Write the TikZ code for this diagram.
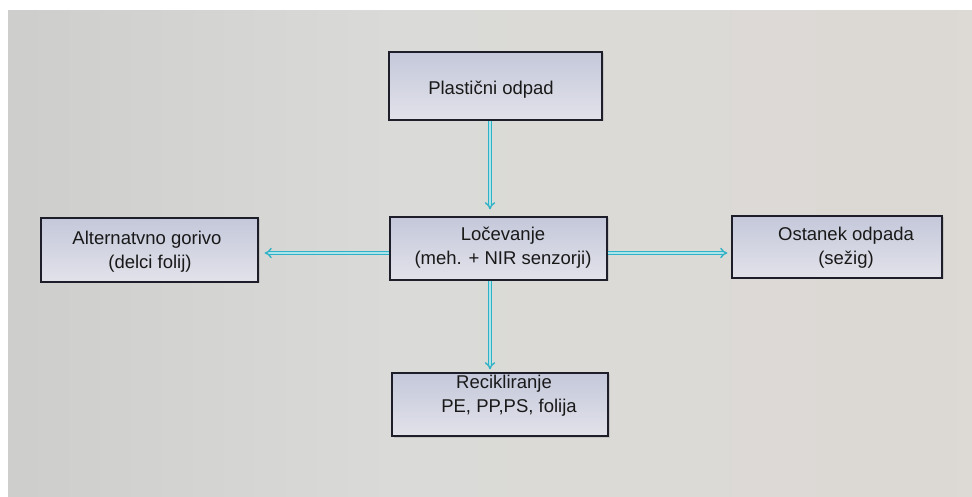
\documentclass[tikz,border=0pt]{standalone}
\usepackage{fontspec}
\setmainfont{Liberation Sans}
\usetikzlibrary{arrows.meta,shadows}

% colours of the screen, the boxes and the flow arrows
\definecolor{screenL}{HTML}{BEBEBE}
\definecolor{screenM}{HTML}{DADAD8}
\definecolor{screenR}{HTML}{DDD9D4}
\definecolor{boxtop}{HTML}{C4C8DA}
\definecolor{boxbot}{HTML}{E2E2EA}
\definecolor{boxline}{HTML}{1E1E2A}
\definecolor{flowline}{HTML}{30B2C6}
\definecolor{flowfill}{HTML}{ACE4EC}

\pgfdeclarehorizontalshading{screen}{100bp}{%
  color(0bp)=(screenL); color(45bp)=(screenM); color(80bp)=(screenR); color(100bp)=(screenR)}

\tikzset{
  stagebox/.style={draw=boxline, line width=1.3bp, top color=boxtop, bottom color=boxbot,
    minimum width=#1, inner sep=0pt,
    drop shadow={shadow xshift=1.5bp, shadow yshift=-1.5bp, opacity=0.25}},
  stagetext/.style={font=\fontsize{18.5bp}{24bp}\selectfont, text=black!90, align=center, inner sep=0pt},
  flow/.style={draw=flowline, line width=1.4bp, double=flowfill, double distance=2bp,
    -{Implies}}
}

\begin{document}
\begin{tikzpicture}[x=1bp, y=-1bp]
  \useasboundingbox (0,0) rectangle (972,497);
  \fill[white] (0,0) rectangle (972,497);
  \shade[shading=screen] (8,11) rectangle (972,497);

  % stages of the sorting process
  \node[stagebox=213bp, minimum height=68bp] (odpad) at (495.5,86) {};
  \node[stagetext] (odpadT) at (491,90) {Plastični odpad};

  \node[stagebox=217bp, minimum height=63bp] (locev) at (498.5,248.5) {};
  \node[stagetext] (locevT) at (503,247.5) {Ločevanje\\(meh. + NIR senzorji)};

  \node[stagebox=217bp, minimum height=64bp] (gorivo) at (149.5,250) {};
  \node[stagetext] (gorivoT) at (147,251.5) {Alternatvno gorivo\\\hspace*{6bp}(delci folij)};

  \node[stagebox=210bp, minimum height=62bp] (ostanek) at (837,247) {};
  \node[stagetext] (ostanekT) at (846,247.5) {Ostanek odpada\\(sežig)};

  \node[stagebox=216bp, minimum height=63bp] (recikl) at (500,404.5) {};
  \node[stagetext] (reciklT) at (504,396) {Recikliranje\\\hspace*{10bp}PE, PP,PS, folija};

  % material flows
  \draw[flow, shorten >=7bp] (odpad.south -| 490,0) -- (locev.north -| 490,0);
  \draw[flow, shorten >=3bp] (locev.south -| 490,0) -- (recikl.north -| 490,0);
  \draw[flow, shorten >=6bp] (locev.west |- 0,253) -- (gorivo.east |- 0,253);
  \draw[flow, shorten >=4bp] (locev.east |- 0,253) -- (ostanek.west |- 0,253);
\end{tikzpicture}
\end{document}
